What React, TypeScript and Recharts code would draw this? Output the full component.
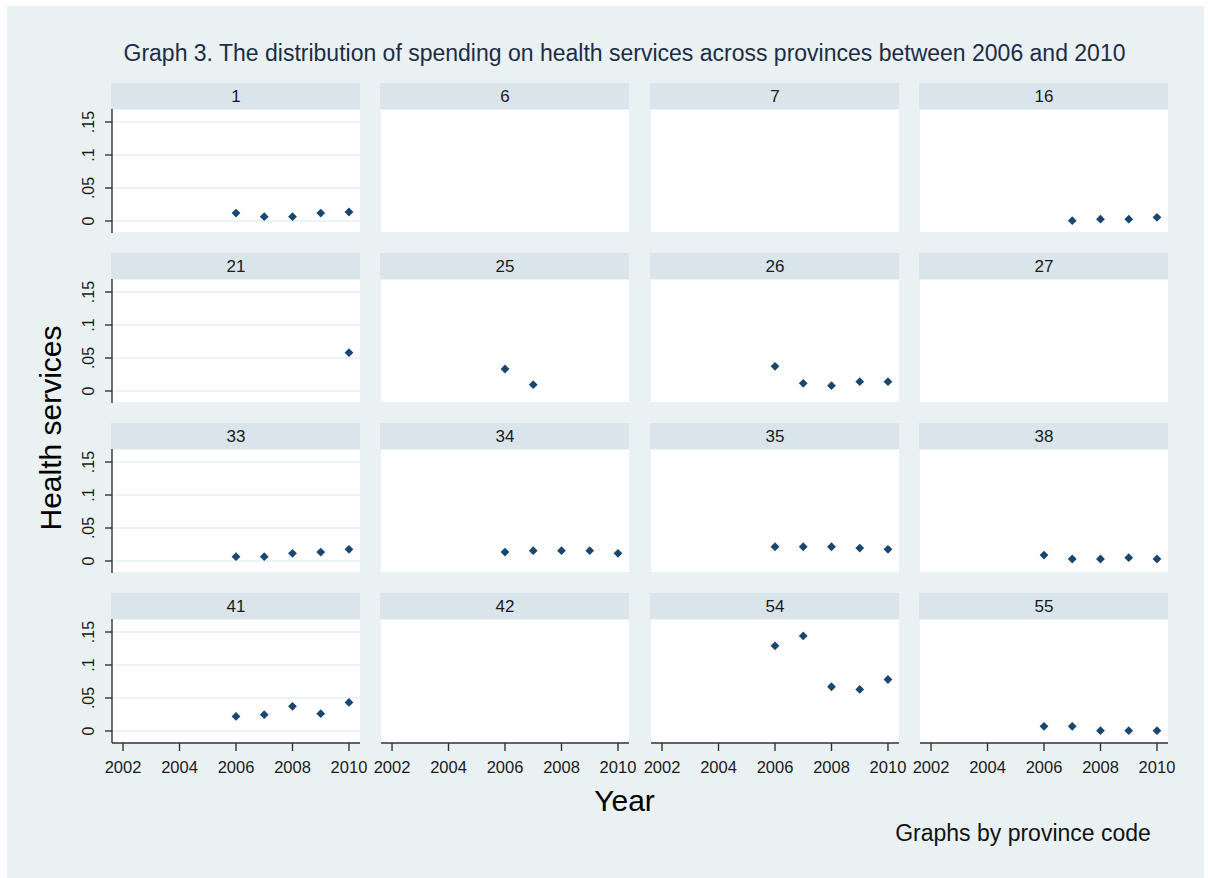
import React from 'react';
import { ScatterChart, Scatter, XAxis, YAxis, CartesianGrid } from 'recharts';

// ---- data ----
const provinces = ['1', '6', '7', '16', '21', '25', '26', '27', '33', '34', '35', '38', '41', '42', '54', '55'];
const years = [2006, 2007, 2008, 2009, 2010];

const p1 = [0.012, 0.0065, 0.0065, 0.012, 0.0136];
const p6 = [null, null, null, null, null];
const p7 = [null, null, null, null, null];
const p16 = [null, 0.0005, 0.0027, 0.0027, 0.0056];
const p21 = [null, null, null, null, 0.058];
const p25 = [0.0333, 0.0096, null, null, null];
const p26 = [0.0374, 0.0116, 0.008, 0.0141, 0.0141];
const p27 = [null, null, null, null, null];
const p33 = [0.0066, 0.0066, 0.0116, 0.0135, 0.0176];
const p34 = [0.0135, 0.0156, 0.0156, 0.0156, 0.0116];
const p35 = [0.0216, 0.0216, 0.0216, 0.0195, 0.0176];
const p38 = [0.009, 0.003, 0.003, 0.005, 0.003];
const p41 = [0.022, 0.0247, 0.0373, 0.0262, 0.0433];
const p42 = [null, null, null, null, null];
const p54 = [0.129, 0.144, 0.067, 0.063, 0.078];
const p55 = [0.007, 0.007, 0.0005, 0.0005, 0.0005];

const seriesValues: (number | null)[][] = [p1, p6, p7, p16, p21, p25, p26, p27, p33, p34, p35, p38, p41, p42, p54, p55];

const xTicks = [2002, 2004, 2006, 2008, 2010];
const yTicks = [0, 0.05, 0.1, 0.15];
const yTickLabels = ['0', '.05', '.1', '.15'];
const xDomain = [2001.61, 2010.39];
const yDomain = [-0.0182, 0.1697];

const titleText = 'Graph 3. The distribution of spending on health services across provinces between 2006 and 2010';
const yLabel = 'Health services';
const xLabel = 'Year';
const noteText = 'Graphs by province code';

// ---- styling / layout ----
const FONT = "'Liberation Sans', Arial, Helvetica, sans-serif";
const BG = '#eaf1f3';
const HEADER = '#d9e5eb';
const GRID = '#e6eff2';
const MARK = '#1a476f';
const AXIS = '#333333';
const W_PLOT = 248;
const H_PLOT = 124;
const YW = 40;
const XH = 40;
const RM = 24;
const colX = [112, 381, 651, 920];
const rowY = [109, 279, 449, 619];

const Diamond = (props: any) => {
  const { cx, cy } = props;
  if (cx == null || cy == null) return null;
  const r = 4.4;
  return <path d={`M${cx},${cy - r}L${cx + r},${cy}L${cx},${cy + r}L${cx - r},${cy}Z`} fill={MARK} />;
};

const XTick = (props: any) => {
  const { x, payload } = props;
  return (
    <text x={x} y={H_PLOT + 29.5} textAnchor="middle" fontSize={16.5} fill="#1a1a1a" fontFamily={FONT}>
      {payload.value}
    </text>
  );
};

const YTick = (props: any) => {
  const { y, payload } = props;
  const idx = yTicks.indexOf(payload.value);
  const lab = idx >= 0 ? yTickLabels[idx] : String(payload.value);
  const ax = YW - 18;
  return (
    <text x={ax} y={y} transform={`rotate(-90 ${ax} ${y})`} textAnchor="middle" fontSize={16} fill="#1a1a1a" fontFamily={FONT}>
      {lab}
    </text>
  );
};

function Panel({ idx }: { idx: number }) {
  const col = idx % 4;
  const row = Math.floor(idx / 4);
  const vals = seriesValues[idx];
  const data = years
    .map((yr, i) => ({ year: yr, v: vals[i] }))
    .filter((d) => d.v !== null && d.v !== undefined);
  const showY = col === 0;
  const showX = row === 3;
  return (
    <div style={{ position: 'absolute', left: colX[col] - YW, top: rowY[row] }}>
      <ScatterChart width={W_PLOT + YW + RM} height={H_PLOT + XH} margin={{ top: 0, right: RM, bottom: 0, left: 0 }}>
        <CartesianGrid vertical={false} stroke={GRID} strokeWidth={1.6} fill="#ffffff" />
        <XAxis
          type="number"
          dataKey="year"
          domain={xDomain}
          ticks={xTicks}
          allowDataOverflow
          height={XH}
          tickSize={8}
          tickMargin={0}
          axisLine={showX ? { stroke: AXIS, strokeWidth: 1.4 } : false}
          tickLine={showX ? { stroke: AXIS, strokeWidth: 1.4 } : false}
          tick={showX ? <XTick /> : false}
        />
        <YAxis
          type="number"
          dataKey="v"
          domain={yDomain}
          ticks={yTicks}
          allowDataOverflow
          width={YW}
          tickSize={7}
          tickMargin={0}
          axisLine={showY ? { stroke: AXIS, strokeWidth: 1.4 } : false}
          tickLine={showY ? { stroke: AXIS, strokeWidth: 1.4 } : false}
          tick={showY ? <YTick /> : false}
        />
        <Scatter data={data} shape={<Diamond />} fill={MARK} isAnimationActive={false} />
      </ScatterChart>
    </div>
  );
}

export default function App() {
  return (
    <div style={{ position: 'absolute', left: 0, top: 0, width: 1208, height: 878, background: '#ffffff', overflow: 'hidden' }}>
      <svg width={1208} height={878} style={{ position: 'absolute', left: 0, top: 0 }}>
        <rect x={7} y={6} width={1197} height={872} fill={BG} />
        <text x={624.5} y={61} textAnchor="middle" fontSize={23} fill="#1c2c44" fontFamily={FONT}>
          {titleText}
        </text>
        {provinces.map((p, i) => {
          const col = i % 4;
          const row = Math.floor(i / 4);
          return (
            <g key={p}>
              <rect x={colX[col] - 1} y={rowY[row] - 26} width={W_PLOT + 1} height={26} fill={HEADER} />
              <text x={colX[col] + W_PLOT / 2} y={rowY[row] - 7} textAnchor="middle" fontSize={17} fill="#1a1a1a" fontFamily={FONT}>
                {p}
              </text>
            </g>
          );
        })}
        <text x={61} y={428} transform="rotate(-90 61 428)" textAnchor="middle" fontSize={30} fill="#000" fontFamily={FONT}>
          {yLabel}
        </text>
        <text x={624.5} y={811} textAnchor="middle" fontSize={30} fill="#000" fontFamily={FONT}>
          {xLabel}
        </text>
        <text x={1023} y={841} textAnchor="middle" fontSize={23} fill="#111" fontFamily={FONT}>
          {noteText}
        </text>
      </svg>
      {provinces.map((p, i) => (
        <Panel key={p} idx={i} />
      ))}
    </div>
  );
}
